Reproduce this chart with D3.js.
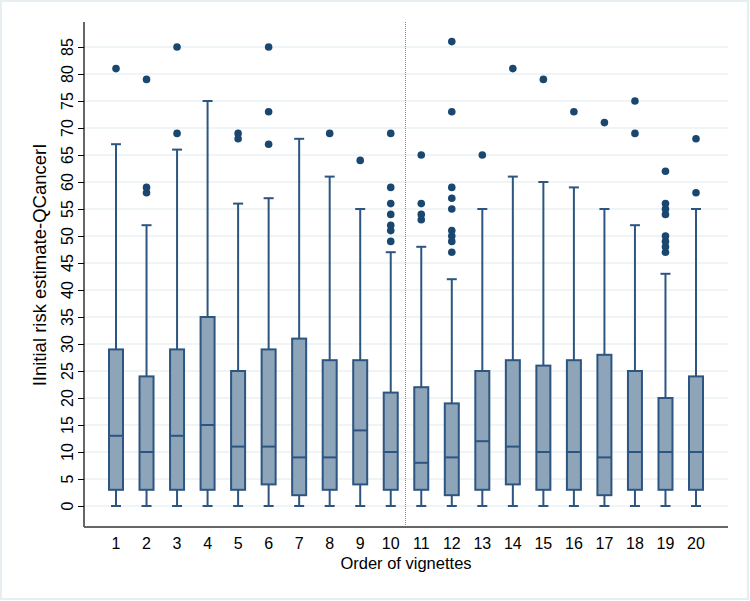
<!DOCTYPE html>
<html><head><meta charset="utf-8">
<script src="https://cdn.jsdelivr.net/npm/d3@7"></script>
<style>body{margin:0;background:#fff}svg{display:block}text{font-family:"Liberation Sans",Arial,sans-serif;fill:#000}</style>
</head><body><svg id="c" width="750" height="601"></svg>
<script>
const categories = ["1","2","3","4","5","6","7","8","9","10","11","12","13","14","15","16","17","18","19","20"];
const whiskerLow = [0,0,0,0,0,0,0,0,0,0,0,0,0,0,0,0,0,0,0,0];
const q1 =        [3,3,3,3,3,4,2,3,4,3,3,2,3,4,3,3,2,3,3,3];
const medians =   [13,10,13,15,11,11,9,9,14,10,8,9,12,11,10,10,9,10,10,10];
const q3 =        [29,24,29,35,25,29,31,27,27,21,22,19,25,27,26,27,28,25,20,24];
const whiskerHigh=[67,52,66,75,56,57,68,61,55,47,48,42,55,61,60,59,55,52,43,55];
const outliers = [
  [81],[58,59,79],[69,85],[],[68,69],[67,73,85],[],[69],[64],[49,51,52,54,56,59,69],
  [53,54,56,65],[47,49,50,51,55,57,59,73,86],[65],[81],[79],[73],[71],[69,75],[47,48,49,50,54,55,56,62],[58,68]
];
const yTicks = d3.range(0,90,5);

const svg = d3.select("#c");
const L=84, R=728, T=22, B=527;
const y = d3.scaleLinear().domain([0,85]).range([506,47]);
const x = d3.scalePoint().domain(categories).range([116,696]);

// outer frame
svg.append("rect").attr("x",1).attr("y",1).attr("width",747).attr("height",598)
  .attr("fill","#fff").attr("stroke","#e6eef2").attr("stroke-width",2);

// gridlines
svg.append("g").selectAll("line").data(yTicks).join("line")
  .attr("x1",L).attr("x2",R).attr("y1",d=>y(d)).attr("y2",d=>y(d))
  .attr("stroke","#eaf2f3").attr("stroke-width",1.5);

// dotted separator
svg.append("line").attr("x1",405.5).attr("x2",405.5).attr("y1",T).attr("y2",B)
  .attr("stroke","#888").attr("stroke-width",1).attr("stroke-dasharray","1,1");

// y axis
const ya = svg.append("g").attr("transform",`translate(${L},0)`)
  .call(d3.axisLeft(y).tickValues(yTicks).tickSize(6).tickSizeOuter(0));
ya.select(".domain").remove();
ya.selectAll(".tick line").attr("stroke","#000");
ya.selectAll(".tick text").remove();
svg.append("line").attr("x1",L).attr("x2",L).attr("y1",T).attr("y2",B).attr("stroke","#000").attr("stroke-width",1.2);
svg.append("g").selectAll("text").data(yTicks).join("text")
  .attr("transform",d=>`translate(72.5,${y(d)}) rotate(-90)`)
  .attr("text-anchor","middle").attr("font-size",16).text(d=>d);

// x axis
svg.append("line").attr("x1",L).attr("x2",R).attr("y1",B).attr("y2",B).attr("stroke","#666").attr("stroke-width",2);
svg.append("g").selectAll("text").data(categories).join("text")
  .attr("x",d=>x(d)).attr("y",548.5).attr("text-anchor","middle").attr("font-size",16).text(d=>d);

// titles
svg.append("text").attr("x",406).attr("y",569).attr("text-anchor","middle").attr("font-size",16.5).text("Order of vignettes");
svg.append("text").attr("transform","translate(46,265) rotate(-90)").attr("text-anchor","middle").attr("font-size",18.5).text("IInitial risk estimate-QCancerI");

const stroke="#2c5581", fill="#8ea4b9", dot="#1a476f";
const bw=14, cw=10;
const g = svg.append("g");
categories.forEach((c,i)=>{
  const cx=x(c);
  // whiskers
  g.append("line").attr("x1",cx).attr("x2",cx).attr("y1",y(q3[i])).attr("y2",y(whiskerHigh[i])).attr("stroke",stroke).attr("stroke-width",2);
  g.append("line").attr("x1",cx).attr("x2",cx).attr("y1",y(q1[i])).attr("y2",y(whiskerLow[i])).attr("stroke",stroke).attr("stroke-width",2);
  g.append("line").attr("x1",cx-cw/2).attr("x2",cx+cw/2).attr("y1",y(whiskerHigh[i])).attr("y2",y(whiskerHigh[i])).attr("stroke",stroke).attr("stroke-width",2);
  g.append("line").attr("x1",cx-cw/2).attr("x2",cx+cw/2).attr("y1",y(whiskerLow[i])).attr("y2",y(whiskerLow[i])).attr("stroke",stroke).attr("stroke-width",2);
  // box
  g.append("rect").attr("x",cx-bw/2).attr("y",y(q3[i])).attr("width",bw).attr("height",y(q1[i])-y(q3[i]))
    .attr("fill",fill).attr("stroke",stroke).attr("stroke-width",2);
  g.append("line").attr("x1",cx-bw/2).attr("x2",cx+bw/2).attr("y1",y(medians[i])).attr("y2",y(medians[i])).attr("stroke",stroke).attr("stroke-width",2);
  // outliers
  g.selectAll(null).data(outliers[i]).join("circle").attr("cx",cx).attr("cy",d=>y(d)).attr("r",3.8).attr("fill",dot);
});
</script></body></html>
